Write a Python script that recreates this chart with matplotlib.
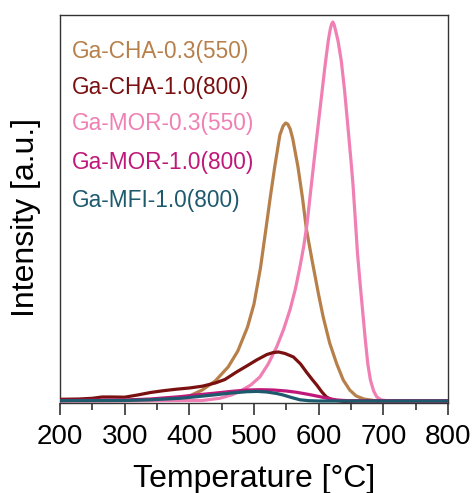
import matplotlib
matplotlib.use("Agg")
import matplotlib.pyplot as plt
from matplotlib.ticker import MultipleLocator

plt.rcParams['font.family'] = ['Liberation Sans', 'DejaVu Sans']

# ---- data ----
cha03_T = [200, 350, 380, 400, 420, 440, 460, 475, 490, 500, 510, 518, 525, 532, 540, 545, 549, 552, 556,
           560, 568, 575, 581, 590, 600, 607, 617, 628, 638, 648, 658, 670, 690, 800]
cha03_I = [0, 0.5, 2, 5, 11, 20, 34, 50, 74, 97, 133, 170, 203, 234, 266, 275, 278, 277, 272,
           262, 234, 203, 172, 140, 106, 84, 58, 37, 21, 11, 5, 2, 0, 0]

mor03_T = [200, 420, 447, 465, 478, 495, 509, 522, 535, 546, 556, 564, 571, 577, 582, 589, 596, 603, 610,
           615, 618, 620, 622, 624, 626, 630, 635, 640, 645, 650, 653, 656, 660, 664, 668, 672, 676, 680,
           685, 690, 697, 710, 800]
mor03_I = [0, 0.5, 2.7, 6, 9.5, 16, 24, 37, 54, 72, 92, 112, 134, 155, 177, 218, 258, 297, 336,
           361, 372, 377, 379, 376, 371, 360, 340, 311, 276, 240, 217, 188, 148, 118, 90, 62, 37, 21,
           10, 4, 1, 0, 0]

cha10_T = [200, 230, 250, 265, 280, 300, 320, 340, 360, 380, 400, 420, 440, 455, 473, 490, 504, 520, 530,
           538, 548, 561, 572, 581, 590, 597, 605, 612, 620, 628, 640, 660, 800]
cha10_I = [1.7, 2, 2.7, 4, 4, 3.8, 6, 8.5, 10.3, 11.8, 13, 14.8, 18, 21.5, 29, 35.5, 41, 46.5, 48.5,
           49, 47.5, 44, 37, 29, 21.5, 16, 9, 4, 1.5, 0.5, -0.5, 0, 0]

mor10_T = [200, 300, 340, 385, 410, 437, 465, 489, 510, 530, 550, 566, 585, 602, 615, 628, 645, 800]
mor10_I = [0.5, 1, 2, 4.3, 6, 7.7, 9.6, 11, 11.3, 11, 10, 8.7, 6.5, 4.3, 2.5, 1, 0.3, 0]

mfi10_T = [200, 300, 340, 385, 410, 437, 465, 489, 505, 520, 535, 545, 558, 571, 585, 600, 800]
mfi10_I = [0.3, 0.5, 1.2, 2.7, 4.2, 6, 8, 9.3, 9.6, 9, 7.5, 6, 3.5, 1.2, 0.3, 0, 0]

labels = ['Ga-CHA-0.3(550)', 'Ga-CHA-1.0(800)', 'Ga-MOR-0.3(550)', 'Ga-MOR-1.0(800)', 'Ga-MFI-1.0(800)']
colors = ['#B7804A', '#7A1010', '#F080B4', '#C0187A', '#1E5A6E']

x_ticks = [200, 300, 400, 500, 600, 700, 800]

# ---- figure ----
fig = plt.figure(figsize=(4.75, 4.93), dpi=100)
ax = fig.add_axes([60 / 475, 1 - 402.5 / 493, 388 / 475, 387.5 / 493])

lw = 2.3
kw = dict(lw=lw, solid_joinstyle='round', solid_capstyle='round')
ax.plot(cha03_T, cha03_I, color=colors[0], zorder=2, **kw)
ax.plot(mor03_T, mor03_I, color=colors[2], zorder=3, **kw)
ax.plot(cha10_T, cha10_I, color=colors[1], zorder=4, **kw)
ax.plot(mor10_T, mor10_I, color=colors[3], zorder=5, **kw)
ax.plot(mfi10_T, mfi10_I, color=colors[4], zorder=6, **kw)

ax.set_xlim(200, 800)
ax.set_ylim(-1.5, 386)
ax.set_xticks(x_ticks)
ax.set_xticklabels([str(t) for t in x_ticks])
ax.xaxis.set_minor_locator(MultipleLocator(50))
ax.set_yticks([])

ax.tick_params(axis='x', which='major', direction='out', length=8.5, width=1.1, labelsize=20, pad=7, color='#222222')
ax.tick_params(axis='x', which='minor', direction='out', length=4.8, width=1.1, color='#222222')
for s in ax.spines.values():
    s.set_linewidth(1.0)
    s.set_color('#333333')

ax.set_xlabel('Temperature [°C]', fontsize=23, labelpad=10)
ax.set_ylabel('Intensity [a.u.]', fontsize=23)
ax.yaxis.set_label_coords(-0.05, 0.478)

ys = [0.905, 0.812, 0.72, 0.62, 0.52]
for lab, c, y in zip(labels, colors, ys):
    ax.text(0.031, y, lab, color=c, fontsize=16.3, transform=ax.transAxes, ha='left', va='center')

fig.savefig('out.png', dpi=100)
